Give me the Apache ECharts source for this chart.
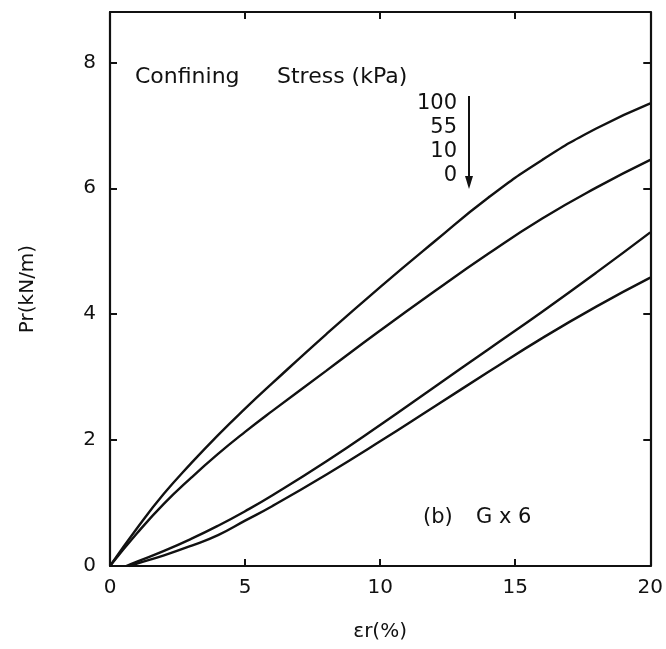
<!DOCTYPE html>
<html>
<head>
<meta charset="utf-8">
<script src="https://cdn.jsdelivr.net/npm/echarts@6/dist/echarts.min.js"></script>
<style>
  html, body { margin: 0; padding: 0; background: #fff; }
  #chart { width: 666px; height: 649px; }
</style>
</head>
<body>
<div id="chart"></div>
<script>
// Load–strain curves for four confining stresses, points as [strain %, load kN/m]
const stressLabels = ['100', '55', '10', '0'];
const curve100 = [[0,0],[1,0.6],[2,1.15],[3,1.63],[4,2.08],[5,2.5],[6,2.9],[8,3.68],[10,4.43],[12,5.15],[14,5.85],[16,6.45],[18,6.95],[20,7.35]];
const curve55  = [[0,0],[1,0.52],[2,0.99],[3,1.4],[4,1.78],[5,2.13],[6,2.46],[8,3.1],[10,3.74],[12,4.36],[14,4.96],[16,5.52],[18,6.01],[20,6.45]];
const curve10  = [[0.6,0],[1,0.07],[2,0.24],[3,0.43],[4,0.64],[5,0.87],[6,1.12],[8,1.66],[10,2.24],[12,2.84],[14,3.44],[16,4.04],[18,4.66],[20,5.3]];
const curve0   = [[0.7,0],[1,0.04],[2,0.17],[3,0.32],[4,0.49],[5,0.72],[6,0.95],[8,1.45],[10,1.98],[12,2.53],[14,3.08],[16,3.62],[18,4.12],[20,4.58]];
const xTicks = [0, 5, 10, 15, 20];
const yTicks = [0, 2, 4, 6, 8];

const FONT = 'DejaVu Sans';
const INK = '#111';

const chart = echarts.init(document.getElementById('chart'), null, { renderer: 'canvas' });

function makeSeries(name, data) {
  return {
    name, type: 'line', data, smooth: true, showSymbol: false,
    lineStyle: { color: INK, width: 2.4 }, z: 3
  };
}

const axisCommon = {
  axisLine: { show: true, onZero: false, lineStyle: { color: INK, width: 2.2 } },
  axisTick: { show: true, inside: true, length: 7, lineStyle: { color: INK, width: 2 } },
  splitLine: { show: false },
  axisLabel: { color: INK, fontFamily: FONT, fontSize: 20 }
};

chart.setOption({
  animation: false,
  backgroundColor: '#fff',
  grid: { left: 110, right: 13, top: 12, bottom: 83 },
  xAxis: [
    Object.assign({}, axisCommon, {
      type: 'value', min: 0, max: 20, interval: 5,
      name: 'εr(%)', nameLocation: 'middle', nameGap: 56,
      nameTextStyle: { color: INK, fontFamily: FONT, fontSize: 20 },
      axisLabel: Object.assign({}, axisCommon.axisLabel, { margin: 12,
        formatter: v => xTicks.includes(v) ? String(v) : '' })
    }),
    Object.assign({}, axisCommon, {
      type: 'value', min: 0, max: 20, interval: 5, position: 'top',
      axisLabel: { show: false }
    })
  ],
  yAxis: [
    Object.assign({}, axisCommon, {
      type: 'value', min: 0, max: 8.8, interval: 2,
      name: 'Pr(kN/m)', nameLocation: 'middle', nameGap: 72, nameRotate: 90,
      nameTextStyle: { color: INK, fontFamily: FONT, fontSize: 20 },
      axisLabel: Object.assign({}, axisCommon.axisLabel, { margin: 14,
        formatter: v => yTicks.includes(v) ? String(v) : '' })
    }),
    Object.assign({}, axisCommon, {
      type: 'value', min: 0, max: 8.8, interval: 2, position: 'right',
      axisLabel: { show: false }
    })
  ],
  series: [
    makeSeries(stressLabels[0], curve100),
    makeSeries(stressLabels[1], curve55),
    makeSeries(stressLabels[2], curve10),
    makeSeries(stressLabels[3], curve0)
  ],
  graphic: [
    { type: 'text', left: 135, top: 66,
      style: { text: 'Confining', font: '22px ' + FONT, fill: INK } },
    { type: 'text', left: 277, top: 66,
      style: { text: 'Stress (kPa)', font: '22px ' + FONT, fill: INK } },
    { type: 'group', children: stressLabels.map((t, i) => ({
        type: 'text', x: 457, y: 104 + i * 24,
        style: { text: t, font: '21px ' + FONT, fill: INK, align: 'right', verticalAlign: 'middle' }
      })) },
    { type: 'line', shape: { x1: 469, y1: 96, x2: 469, y2: 186 },
      style: { stroke: INK, lineWidth: 2 } },
    { type: 'polygon', shape: { points: [[465, 176], [473, 176], [469, 189]] },
      style: { fill: INK } },
    { type: 'text', left: 423, top: 507,
      style: { text: '(b)', font: '21px ' + FONT, fill: INK } },
    { type: 'text', left: 476, top: 507,
      style: { text: 'G x 6', font: '21px ' + FONT, fill: INK } }
  ]
});
</script>
</body>
</html>
